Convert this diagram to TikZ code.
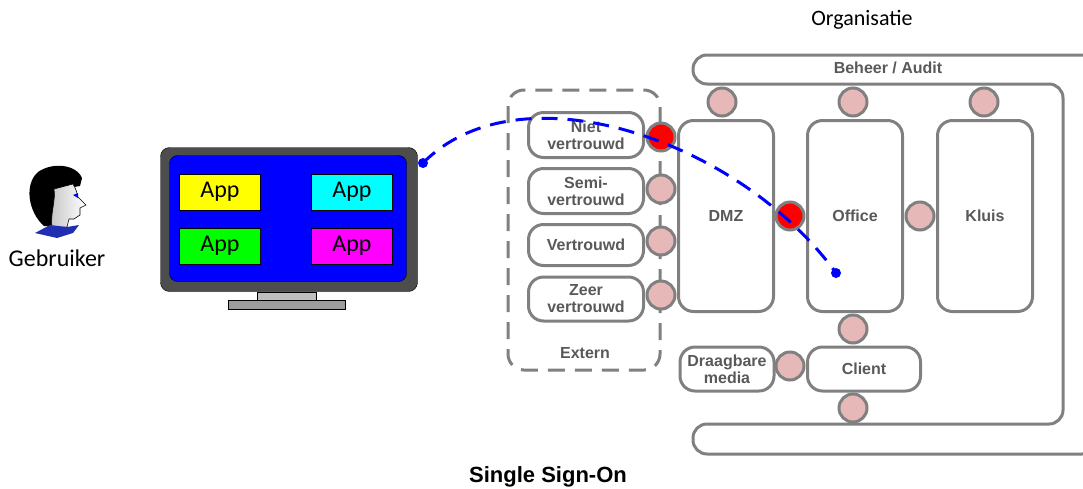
\documentclass[tikz,border=0pt]{standalone}
\usepackage{fontspec}
\setmainfont{Liberation Sans}
\newfontfamily\calib{Carlito}
\definecolor{linegray}{HTML}{808080}
\definecolor{portpink}{HTML}{E6B9B8}
\definecolor{labelgray}{HTML}{595959}
\definecolor{bezel}{HTML}{4D4D4D}
\definecolor{collar}{HTML}{1F2FB0}
\definecolor{appyellow}{RGB}{255,255,0}
\definecolor{appcyan}{RGB}{0,255,255}
\definecolor{appgreen}{RGB}{0,255,0}
\definecolor{appmagenta}{RGB}{255,0,255}
\definecolor{screenblue}{RGB}{0,0,255}

\tikzset{
  zone/.style={draw=linegray,line width=3pt,rounded corners=15pt,fill=white,
    text=labelgray,font=\fontsize{16}{17}\selectfont\bfseries,align=center,inner sep=0pt},
  port/.style={circle,draw=linegray,line width=3pt,fill=portpink,minimum size=28pt,inner sep=0pt},
  hotport/.style={port,fill=red},
  app/.style={draw=black,line width=0.8pt,minimum width=81pt,minimum height=36pt,
    inner sep=0pt,font=\calib\fontsize{24}{26}\selectfont},
  sso/.style={blue,line width=3pt,dash pattern=on 16pt off 10pt},
}

\begin{document}
\begin{tikzpicture}[x=1pt,y=-1pt]
\useasboundingbox (0,0) rectangle (1083,488);
\clip (0,0) rectangle (1083,488);
%%%%%%%%%%%%%%%%%%%% the user %%%%%%%%%%%%%%%%%%%%
\fill[black] (44,226) .. controls (28,212) and (24,184) .. (38,172)
  .. controls (52,162) and (76,164) .. (82,178) -- (80,186) -- (56,190) -- (52,226) -- cycle;
\shade[left color=gray!45,right color=white,draw=black,line width=0.6pt]
  (54,189) -- (73,184) .. controls (76,189) and (77,193) .. (78,197) -- (86,205) -- (80,208)
  -- (80,215) -- (74,219) -- (69,219) -- (67,227) -- (52,228) .. controls (50,214) and (56,200) .. (54,189) -- cycle;
\fill[collar] (35,233) -- (50,225) -- (67,227) -- (79,225) -- (73,233) -- (57,238) -- cycle;
\fill[blue] (73,195) -- (78,193) -- (78,198) -- cycle;
\node[font=\calib\fontsize{24}{26}\selectfont] (user) at (57,258) {Gebruiker};
%%%%%%%%%%%%%%%%%%%% the workstation %%%%%%%%%%%%%%%%%%%%
\node[draw=black,fill=gray!50,minimum width=59pt,minimum height=8pt,inner sep=0pt] (neck) at (287,296) {};
\node[draw=black,fill=gray!90!black!70,minimum width=117pt,minimum height=9pt,inner sep=0pt] (base) at (287,304.5) {};
\node[draw=black,fill=bezel,rounded corners=9pt,minimum width=257pt,minimum height=144pt,inner sep=0pt] (monitor) at (289,219.5) {};
\node[draw=black,fill=screenblue,rounded corners=8pt,minimum width=237pt,minimum height=126pt,inner sep=0pt] (screen) at (288,218.5) {};
\node[app,fill=appyellow]  (appA) at (220,192) {App};
\node[app,fill=appcyan]    (appB) at (352,192) {App};
\node[app,fill=appgreen]   (appC) at (220,246) {App};
\node[app,fill=appmagenta] (appD) at (352,246) {App};
%%%%%%%%%%%%%%%%%%%% the organisation frame %%%%%%%%%%%%%%%%%%%%
\draw[linegray,line width=3pt,rounded corners=14pt]
  (1096,250) -- (1096,55) -- (693,55) -- (693,84) -- (1063,84) -- (1063,424)
  -- (693,424) -- (693,454) -- (1096,454) -- cycle;
\node[font=\calib\fontsize{22}{24}\selectfont] (org) at (862,20) {Organisatie};
\node[text=labelgray,font=\fontsize{16}{17}\selectfont\bfseries] (audit) at (888,68) {Beheer / Audit};
%%%%%%%%%%%%%%%%%%%% the external zones %%%%%%%%%%%%%%%%%%%%
\draw[linegray,line width=3pt,rounded corners=16pt,dash pattern=on 17pt off 10pt] (508,90) rectangle (660,370);
\node[text=labelgray,font=\fontsize{16}{17}\selectfont\bfseries] (extern) at (585,353) {Extern};
\node[zone,minimum width=115pt,minimum height=45pt] (niet) at (586,135) {Niet\\vertrouwd};
\node[zone,minimum width=115pt,minimum height=45pt] (semi) at (586,191) {Semi-\\vertrouwd};
\node[zone,minimum width=115pt,minimum height=41pt] (vertr) at (586,245) {Vertrouwd};
\node[zone,minimum width=115pt,minimum height=44pt] (zeer) at (586,299) {Zeer\\vertrouwd};
%%%%%%%%%%%%%%%%%%%% the internal zones %%%%%%%%%%%%%%%%%%%%
\node[zone,minimum width=95pt,minimum height=191pt] (dmz) at (726,216) {DMZ};
\node[zone,minimum width=95pt,minimum height=191pt] (office) at (855,216) {Office};
\node[zone,minimum width=95pt,minimum height=191pt] (kluis) at (985,216) {Kluis};
\node[zone,minimum width=113pt,minimum height=44pt] (client) at (864,369) {Client};
\node[zone,minimum width=94pt,minimum height=44pt] (media) at (727,369) {Draagbare\\media};
%%%%%%%%%%%%%%%%%%%% the ports %%%%%%%%%%%%%%%%%%%%
\node[hotport] (pNiet) at (661,137) {};
\node[port] (pSemi) at (661,189) {};
\node[port] (pVertr) at (661,241) {};
\node[port] (pZeer) at (661,295) {};
\node[port] (pDmzTop) at (722,102) {};
\node[port] (pOfficeTop) at (853,102) {};
\node[port] (pKluisTop) at (984,102) {};
\node[hotport] (pDmzOffice) at (790,216) {};
\node[port] (pOfficeKluis) at (920,216) {};
\node[port] (pOfficeClient) at (853,329) {};
\node[port] (pMedia) at (790,366) {};
\node[port] (pClientOut) at (853,408) {};
%%%%%%%%%%%%%%%%%%%% the sign-on path %%%%%%%%%%%%%%%%%%%%
\coordinate (ssoA) at (423,163);
\coordinate (ssoB) at (836,273);
\draw[sso] (ssoA) .. controls (520,65) and (740,140) .. (ssoB);
\fill[blue] (ssoA) circle (5pt);
\fill[blue] (ssoB) circle (5pt);
\node[font=\fontsize{22}{24}\selectfont\bfseries] (title) at (548,477) {Single Sign-On};
\end{tikzpicture}
\end{document}
